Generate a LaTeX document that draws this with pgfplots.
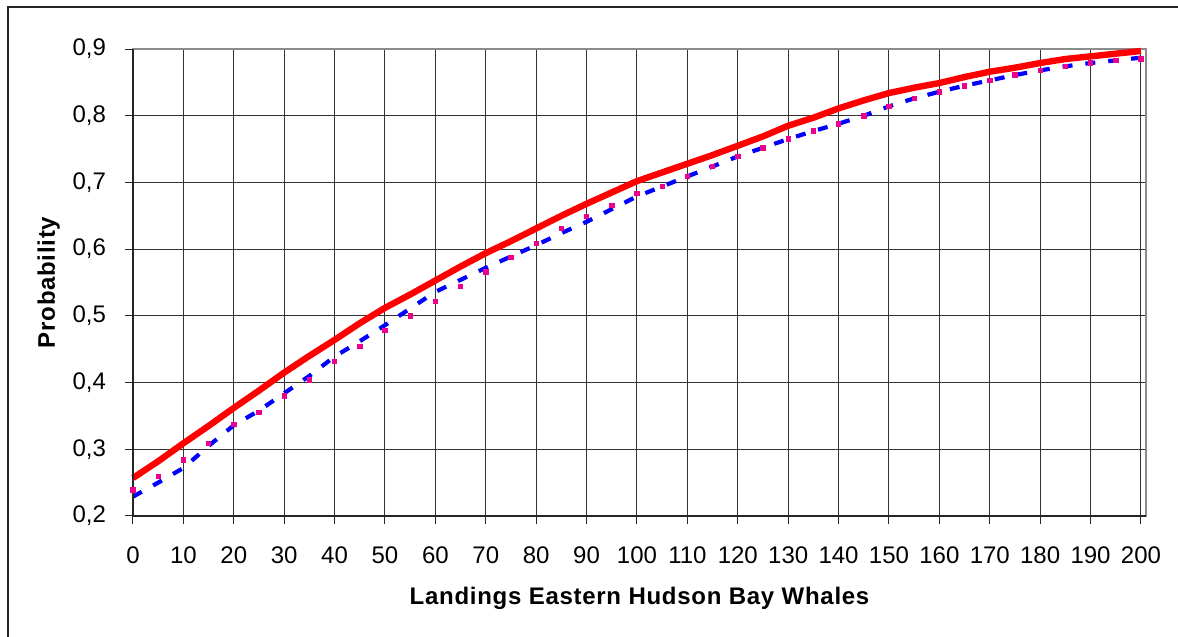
\documentclass[border=0pt]{standalone}
\usepackage{pgfplots}
\pgfplotsset{compat=1.18}
\usepackage{fontspec}
\setmainfont{Liberation Sans}
\begin{document}
\begin{tikzpicture}
\useasboundingbox (-66.5pt,-60.5pt) rectangle (522.5pt,258pt);
\draw[black!85, line width=0.6pt] (-62.5pt,-70pt) -- (-62.5pt,254.5pt) -- (530pt,254.5pt);
\begin{axis}[
 at={(0,0)}, anchor=south west,
 scale only axis, width=506.5pt, height=233.5pt,
 xmin=0, xmax=201, ymin=0.2, ymax=0.9,
 xtick={0,10,20,30,40,50,60,70,80,90,100,110,120,130,140,150,160,170,180,190,200},
 ytick={0.2,0.3,0.4,0.5,0.6,0.7,0.8,0.9},
 /pgf/number format/assume math mode=true,
 yticklabel style={/pgf/number format/fixed, /pgf/number format/fixed zerofill, /pgf/number format/precision=1, /pgf/number format/use comma},
 xticklabel style={font=\fontsize{12}{14}\selectfont, yshift=-8pt},
 yticklabel style={font=\fontsize{12}{14}\selectfont, xshift=-6pt},
 tick pos=left, tick align=outside, major tick length=4pt,
 tick style={black!85, line width=0.5pt},
 grid=major, major grid style={black!80, line width=0.5pt},
 axis line style={black!45, line width=0.8pt},
 xlabel={\addfontfeatures{LetterSpace=3}Landings Eastern Hudson Bay Whales},
 ylabel={\addfontfeatures{LetterSpace=3}Probability},
 xlabel style={font=\bfseries\fontsize{12}{14}\selectfont, at={(axis description cs:0.5,0)}, anchor=base, yshift=-44.5pt},
 ylabel style={font=\bfseries\fontsize{12}{14}\selectfont, at={(axis description cs:0,0.5)}, anchor=base, yshift=39pt},
 clip=false,
]
\addplot[blue, line width=2.1pt, dash pattern=on 5pt off 6.5pt] coordinates {
(0,0.229) (5,0.250) (10,0.272) (15,0.305) (20,0.336) (25,0.358) (30,0.384) (35,0.410) (40,0.439) (45,0.462) (50,0.486) (55,0.511) (60,0.536) (65,0.554) (70,0.572) (75,0.589) (80,0.606) (85,0.624) (90,0.641) (95,0.660) (100,0.679) (105,0.694) (110,0.709) (115,0.724) (120,0.739) (125,0.752) (130,0.765) (135,0.777) (140,0.788) (145,0.800) (150,0.814) (155,0.826) (160,0.836) (165,0.845) (170,0.853) (175,0.861) (180,0.868) (185,0.874) (190,0.879) (195,0.883) (200,0.887)};
\addplot[only marks, mark=square*, mark size=1.1pt, color=magenta] coordinates {
(0,0.239) (5,0.259) (10,0.284) (15,0.309) (20,0.337) (25,0.355) (30,0.380) (35,0.404) (40,0.432) (45,0.454) (50,0.478) (55,0.500) (60,0.522) (65,0.544) (70,0.566) (75,0.588) (80,0.609) (85,0.631) (90,0.649) (95,0.666) (100,0.684) (105,0.694) (110,0.709) (115,0.724) (120,0.739) (125,0.752) (130,0.765) (135,0.777) (140,0.788) (145,0.800) (150,0.814) (155,0.826) (160,0.836) (165,0.845) (170,0.853) (175,0.861) (180,0.868) (185,0.874) (190,0.879) (195,0.883) (200,0.885)};
\addplot[red, line width=3.2pt] coordinates {
(0,0.257) (5,0.282) (10,0.309) (15,0.335) (20,0.362) (25,0.388) (30,0.415) (35,0.440) (40,0.464) (45,0.489) (50,0.512) (55,0.532) (60,0.553) (65,0.574) (70,0.594) (75,0.612) (80,0.631) (85,0.650) (90,0.668) (95,0.685) (100,0.702) (105,0.715) (110,0.728) (115,0.741) (120,0.755) (125,0.769) (130,0.785) (135,0.797) (140,0.811) (145,0.823) (150,0.834) (155,0.842) (160,0.849) (165,0.858) (170,0.866) (175,0.872) (180,0.879) (185,0.885) (190,0.889) (195,0.893) (200,0.897)};
\draw[black!85, line width=0.8pt] (axis cs:0,0.9) -- (axis cs:0,0.2) -- (axis cs:201,0.2);
\end{axis}
\end{tikzpicture}
\end{document}
